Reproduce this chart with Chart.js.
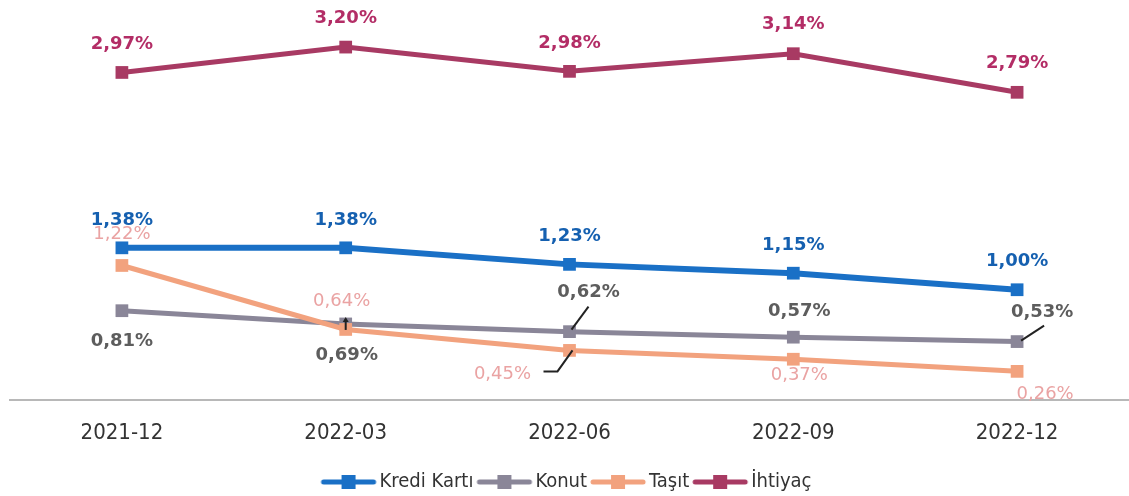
<!DOCTYPE html>
<html>
<head>
<meta charset="utf-8">
<script src="https://cdn.jsdelivr.net/npm/chart.js@4.4.1/dist/chart.umd.min.js"></script>
<style>
  body { margin: 0; background: #fff; overflow: hidden; }
  canvas { display: block; }
</style>
</head>
<body>
<canvas id="lineChart" width="1129" height="496"></canvas>
<script>
const periods = ['2021-12', '2022-03', '2022-06', '2022-09', '2022-12'];
const krediKarti = [1.38, 1.38, 1.23, 1.15, 1.00];
const konut = [0.81, 0.69, 0.62, 0.57, 0.53];
const tasit = [1.22, 0.64, 0.45, 0.37, 0.26];
const ihtiyac = [2.97, 3.20, 2.98, 3.14, 2.79];

// label offsets from each point, in px
const labelOffsets = {
  'Kredi Kartı': [[0, -28], [0, -28], [0, -28], [0, -28], [0, -28]],
  'Konut': [[0, 31], [1, 31], [19, -39], [6, -26], [25, -29]],
  'Taşıt': [[0, -31], [-4, -28], [-67, 24], [6, 16], [28, 23]],
  'İhtiyaç': [[0, -28], [0, -29], [0, -28], [0, -29], [0, -29]],
};
const labelStyles = {
  'Kredi Kartı': { color: '#1560b0', font: 'bold 18px "DejaVu Sans"' },
  'Konut': { color: '#5d5d5d', font: 'bold 18px "DejaVu Sans"' },
  'Taşıt': { color: '#eaa3a3', font: '18px "DejaVu Sans"' },
  'İhtiyaç': { color: '#b32d66', font: 'bold 18px "DejaVu Sans"' },
};

const narrowFont = '"Liberation Sans Narrow", "DejaVu Sans Condensed", sans-serif';

const fmt = (v) => v.toFixed(2).replace('.', ',') + '%';

const legendIcon = (color) => {
  const c = document.createElement('canvas');
  c.width = 58;
  c.height = 16;
  const ctx = c.getContext('2d');
  ctx.strokeStyle = color;
  ctx.lineWidth = 5;
  ctx.lineCap = 'round';
  ctx.beginPath();
  ctx.moveTo(4, 8);
  ctx.lineTo(54, 8);
  ctx.stroke();
  ctx.fillStyle = color;
  ctx.fillRect(22, 1, 14, 14);
  return c;
};

const drawLabels = (chart, onlyName, skipName) => {
  const ctx = chart.ctx;
  chart.data.datasets.forEach((ds, i) => {
    if (onlyName && ds.label !== onlyName) return;
    if (skipName && ds.label === skipName) return;
    const meta = chart.getDatasetMeta(i);
    const st = labelStyles[ds.label];
    ctx.save();
    ctx.font = st.font;
    ctx.fillStyle = st.color;
    ctx.textAlign = 'center';
    ctx.textBaseline = 'middle';
    meta.data.forEach((pt, j) => {
      const off = labelOffsets[ds.label][j];
      ctx.fillText(fmt(ds.data[j]), pt.x + off[0], pt.y + off[1]);
    });
    ctx.restore();
  });
};

const valueLabels = {
  id: 'valueLabels',
  beforeDatasetsDraw(chart) {
    drawLabels(chart, 'Taşıt', null);
  },
  afterDatasetsDraw(chart) {
    drawLabels(chart, null, 'Taşıt');
    // leader lines
    const ctx = chart.ctx;
    const ptOf = (name, j) => {
      const idx = chart.data.datasets.findIndex((d) => d.label === name);
      return chart.getDatasetMeta(idx).data[j];
    };
    ctx.save();
    ctx.strokeStyle = '#222';
    ctx.lineWidth = 2;
    let p = ptOf('Konut', 2);
    ctx.beginPath();
    ctx.moveTo(p.x + 19, p.y - 25);
    ctx.lineTo(p.x + 2, p.y - 2);
    ctx.stroke();
    p = ptOf('Taşıt', 2);
    ctx.beginPath();
    ctx.moveTo(p.x - 26, p.y + 21);
    ctx.lineTo(p.x - 12, p.y + 21);
    ctx.lineTo(p.x + 3, p.y);
    ctx.stroke();
    p = ptOf('Konut', 4);
    ctx.beginPath();
    ctx.moveTo(p.x + 27, p.y - 16);
    ctx.lineTo(p.x + 4, p.y - 1);
    ctx.stroke();
    p = ptOf('Konut', 1);
    ctx.beginPath();
    ctx.moveTo(p.x, p.y + 6);
    ctx.lineTo(p.x, p.y - 5);
    ctx.stroke();
    ctx.beginPath();
    ctx.moveTo(p.x - 3, p.y - 2);
    ctx.lineTo(p.x, p.y - 7);
    ctx.lineTo(p.x + 3, p.y - 2);
    ctx.fillStyle = '#222';
    ctx.fill();
    ctx.restore();
  },
};

const series = (label, data, color, width, order) => ({
  label,
  data,
  borderColor: color,
  backgroundColor: color,
  borderWidth: width,
  pointStyle: 'rect',
  pointRadius: 9,
  pointHoverRadius: 9,
  pointBorderWidth: 0,
  pointBackgroundColor: color,
  tension: 0,
  order,
});

new Chart(document.getElementById('lineChart'), {
  type: 'line',
  data: {
    labels: periods,
    datasets: [
      series('Kredi Kartı', krediKarti, '#1a70c6', 6, 1),
      series('Konut', konut, '#8a8698', 5, 4),
      series('Taşıt', tasit, '#f2a27e', 5, 3),
      series('İhtiyaç', ihtiyac, '#a83a63', 5, 2),
    ],
  },
  options: {
    responsive: false,
    animation: false,
    layout: { autoPadding: false, padding: { left: 10, right: 0, top: 14, bottom: -6 } },
    scales: {
      y: {
        display: false,
        min: 0,
        max: 3.5,
      },
      x: {
        offset: true,
        grid: { display: false, drawTicks: false },
        border: { display: true, color: '#b8b8b8', width: 2 },
        ticks: {
          color: '#333',
          padding: 31,
          font: { family: narrowFont, size: 22, lineHeight: 0.18 },
        },
        afterFit(scale) {
          scale.height -= 4;
        },
      },
    },
    plugins: {
      tooltip: { enabled: false },
      legend: {
        position: 'bottom',
        labels: {
          usePointStyle: true,
          pointStyleWidth: 42,
          padding: 10,
          color: '#333',
          font: { family: narrowFont, size: 20 },
          sort: (a, b) => a.datasetIndex - b.datasetIndex,
          generateLabels(chart) {
            const items = Chart.defaults.plugins.legend.labels.generateLabels(chart);
            return items.map((it) => {
              const ds = chart.data.datasets[it.datasetIndex];
              it.pointStyle = legendIcon(ds.borderColor);
              return it;
            });
          },
        },
      },
    },
  },
  plugins: [valueLabels],
});
</script>
</body>
</html>
